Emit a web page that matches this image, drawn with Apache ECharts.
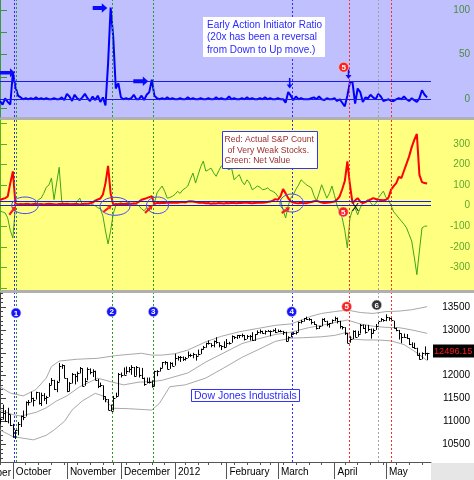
<!DOCTYPE html>
<html lang="en">
<head>
<meta charset="UTF-8">
<title>Early Action Initiator Ratio</title>
<style type="text/css">
    html, body { margin: 0; padding: 0; background: #fff; }
    #main { width: 474px; height: 480px; }
</style>
<script src="https://cdn.jsdelivr.net/npm/echarts@6/dist/echarts.min.js"></script>
</head>
<body>
<div id="main"></div>
<script type="application/javascript">
    // x = trading day index, 0 = 26 Sep 2011 ... 166 = 23 May 2012
    var monthStart = [5, 26, 47, 68, 88, 108, 130, 150];
    var monthName = ['October', 'November', 'December', '2012', 'February', 'March', 'April', 'May'];
    var weekStart = [0, 5, 10, 15, 20, 25, 30, 35, 40, 44, 49, 54, 59, 64, 68, 72, 77, 81, 86, 91, 96, 101, 105,
        110, 115, 120, 125, 130, 134, 139, 144, 149, 154, 159, 164];

    // top panel: early action initiator ratio
    var ratio = [-2, -6, 1, -3, -6, 30, 14, 4, 2, 0, 1, 0, 1, 0, 2, 0, 1, 0, 1, 0,
        0, 1, 0, 0, 2, -1, 6, 3, -2, 5, 1, -1, 2, 6, 1, -2, 3, -1, 4, -3,
        2, -7, 40, 103, 70, 12, 18, 2, 0, 1, 0, 1, 5, 0, 0, 4, -1, 5, 8, 22,
        4, 1, 0, 1, 0, 2, 0, 1, 0, 0, 1, 0, 0, 2, 0, 1, 0, 0, 1, 0,
        0, 1, 0, 0, 2, 0, 1, 0, 0, 3, 0, 1, 0, 0, 1, 0, 2, 0, 1, 0,
        0, 1, 0, 2, 0, 1, 0, 0, 1, 0, 0, -4, 8, 4, -1, 3, 0, 1, 0, 0,
        0, 1, 2, 0, 3, 0, -1, 1, 0, 0, 1, -2, 0, -4, -8, 4, 19, 19, -5, 12,
        8, -3, 2, 1, 5, 2, 0, 6, 3, -2, -1, 0, -2, -2, 0, 1, 0, 3, 0, -2,
        1, -1, -3, 1, 10, 5, 2];

    // middle panel: S&P count of very weak stocks (red) and net value (green)
    var weakCount = [29, 33, 37, 45, 110, 167, 10, 6, 8, 7, 9, 8, 6, 8, 9, 7, 8, 6, 8, 9,
        8, 7, 6, 8, 9, 8, 10, 8, 7, 9, 8, 6, 8, 10, 9, 12, 15, 25, 30, 35,
        55, 110, 194, 60, 5, 8, 7, 9, 8, 10, 8, 9, 10, 12, 20, 29, 33, 37, 42, 46,
        8, 14, 12, 14, 13, 15, 14, 16, 15, 14, 17, 18, 16, 20, 22, 21, 18, 15, 16, 14,
        12, 13, 10, 12, 11, 13, 12, 11, 13, 12, 14, 13, 12, 14, 13, 15, 14, 13, 12, 13,
        14, 15, 14, 16, 18, 20, 25, 32, 29, 45, 81, 60, 37, 21, 15, 13, 12, 14, 13, 12,
        15, 18, 22, 24, 20, 15, 13, 14, 16, 18, 20, 30, 46, 80, 120, 216, 102, 13, 25, 37,
        20, 13, 18, 25, 30, 37, 33, 29, 28, 27, 29, 40, 78, 95, 110, 140, 135, 170, 205, 240,
        285, 320, 349, 150, 115, 110, 108];
    var netValue = [-27, -30, -35, -60, -120, -157, 0, 8, 5, 2, 8, 12, 6, 10, 15, 30, 37, 60, 90, 100,
        135, 30, 110, 187, 20, 8, 10, 5, 10, 3, 20, 37, 5, 8, 2, 10, 5, 0, -10, -15,
        -50, -123, -186, -120, -40, 0, 10, 15, 5, 12, 20, 8, 15, 5, 0, -15, -25, -10, -25, 0,
        10, 62, 80, 96, 70, 37, 40, 46, 55, 70, 60, 77, 85, 96, 130, 159, 110, 150, 190, 217,
        168, 175, 183, 160, 143, 170, 193, 190, 183, 175, 183, 126, 140, 151, 120, 102, 126, 110, 78, 85,
        96, 90, 78, 80, 87, 75, 70, 62, 45, 29, -20, -60, 0, 37, 54, 80, 100, 126, 115, 102,
        95, 87, 50, 23, 60, 102, 70, 37, 60, 96, 50, 0, -30, -60, -120, -205, -60, -20, -11, -44,
        -10, 13, 20, 29, 15, 0, 10, 37, 55, 71, 40, 29, 0, -30, -44, -60, -75, -90, -108, -140,
        -172, -250, -335, -220, -108, -100, -99];

    // bottom panel: Dow Jones Industrials daily bars
    var dowHigh = [11070, 11370, 11250, 11300, 11150, 10950, 10810, 10990, 11130, 11240,
        11440, 11470, 11650, 11520, 11650, 11640, 11630, 11620, 11560, 11840,
        11950, 11910, 11890, 12280, 12250, 12230, 11950, 11860, 12060, 12040,
        12090, 12190, 12160, 11950, 12180, 12160, 12140, 12110, 11930, 11850,
        11790, 11550, 11490, 11370, 11560, 11630, 12060, 12070, 12180, 12200,
        12190, 12230, 12190, 12210, 12180, 12170, 11960, 11960, 11960, 11900,
        12110, 12120, 12180, 12300, 12320, 12300, 12300, 12290, 12480, 12430,
        12430, 12420, 12410, 12530, 12480, 12500, 12470, 12570, 12590, 12650,
        12720, 12770, 12710, 12770, 12840, 12730, 12660, 12750, 12800, 12740,
        12880, 12860, 12890, 12890, 12920, 12890, 12890, 12890, 12950, 12910,
        12990, 13010, 12980, 12990, 13000, 12990, 13010, 13040, 13010, 13000,
        12980, 12960, 12860, 12940, 12950, 12970, 13180, 13220, 13260, 13290,
        13260, 13240, 13190, 13120, 13090, 13250, 13260, 13200, 13150, 13230,
        13290, 13270, 13200, 13080, 13060, 12930, 12860, 12990, 12990, 12980,
        13130, 13120, 13110, 13110, 13030, 13030, 13130, 13210, 13260, 13230,
        13340, 13280, 13290, 13200, 13050, 13000, 12920, 12920, 12910, 12820,
        12730, 12720, 12610, 12500, 12510, 12640, 12500];
    var dowLow = [10950, 11040, 11000, 10960, 10900, 10650, 10620, 10700, 10880, 11030,
        11110, 11350, 11420, 11330, 11480, 11370, 11340, 11450, 11380, 11540,
        11800, 11690, 11640, 11870, 12150, 11950, 11640, 11660, 11830, 11810,
        11870, 12050, 11770, 11780, 11900, 12030, 11970, 11900, 11730, 11750,
        11470, 11420, 11250, 11230, 11240, 11520, 11560, 11960, 12010, 12030,
        12070, 12020, 11980, 12000, 11960, 11930, 11780, 11830, 11830, 11740,
        11770, 11990, 12090, 12170, 12240, 12140, 12150, 12210, 12220, 12330,
        12300, 12320, 12330, 12390, 12410, 12380, 12330, 12440, 12470, 12570,
        12610, 12680, 12620, 12620, 12700, 12620, 12560, 12600, 12630, 12680,
        12720, 12800, 12800, 12820, 12840, 12770, 12800, 12770, 12760, 12760,
        12900, 12920, 12920, 12900, 12960, 12860, 12960, 12930, 12950, 12950,
        12890, 12740, 12760, 12840, 12900, 12900, 12960, 13140, 13180, 13220,
        13200, 13120, 13110, 13010, 13020, 13080, 13190, 13080, 13050, 13140,
        13190, 13140, 13030, 13010, 12890, 12710, 12720, 12800, 12840, 12850,
        12920, 13020, 12920, 12970, 12810, 12920, 13000, 13080, 13180, 13180,
        13190, 13200, 13180, 13030, 12970, 12790, 12710, 12830, 12800, 12670,
        12610, 12590, 12440, 12350, 12360, 12440, 12340];
    var dowClose = [11044, 11191, 11011, 11154, 10913, 10655, 10809, 10940, 11123, 11103,
        11433, 11416, 11519, 11478, 11644, 11397, 11577, 11505, 11541, 11808,
        11913, 11706, 11869, 12209, 12231, 11955, 11658, 11836, 12044, 11983,
        12068, 12170, 11780, 11894, 12153, 12079, 12096, 11906, 11771, 11796,
        11548, 11494, 11258, 11231, 11523, 11556, 12046, 12020, 12019, 12098,
        12151, 12196, 11997, 12184, 12021, 11954, 11823, 11868, 11866, 11766,
        12103, 12107, 12169, 12294, 12291, 12151, 12288, 12218, 12397, 12418,
        12415, 12360, 12393, 12462, 12450, 12471, 12422, 12482, 12579, 12624,
        12720, 12709, 12676, 12756, 12734, 12660, 12653, 12633, 12716, 12705,
        12862, 12845, 12879, 12884, 12890, 12801, 12874, 12878, 12781, 12904,
        12950, 12966, 12938, 12985, 12983, 12981, 13005, 12952, 12980, 12978,
        12962, 12759, 12837, 12907, 12922, 12960, 13178, 13194, 13253, 13233,
        13239, 13171, 13125, 13046, 13081, 13242, 13197, 13127, 13146, 13212,
        13264, 13199, 13075, 13060, 12930, 12716, 12806, 12987, 12850, 12921,
        13116, 13033, 12965, 13029, 12928, 13001, 13090, 13205, 13229, 13214,
        13280, 13269, 13207, 13038, 13009, 12933, 12835, 12855, 12821, 12695,
        12632, 12599, 12443, 12369, 12504, 12502, 12496];

    // Bollinger bands, read at the bends
    var upperDay = [0, 4, 9, 14, 18, 20, 23, 30, 38, 45, 55, 59, 63, 68, 73, 80, 86, 93, 100, 107, 113, 117, 121, 125, 130, 135, 140, 145, 150, 155, 160, 166];
    var upperVal = [11760, 11620, 11560, 11700, 11950, 12200, 12320, 12360, 12380, 12440, 12490, 12450, 12450, 12480, 12560, 12740, 12860, 12960, 13030, 13100, 13130, 13210, 13300, 13360, 13400, 13434, 13380, 13360, 13400, 13410, 13440, 13507];
    var midDay = [0, 5, 8, 14, 18, 22, 26, 31, 38, 43, 48, 54, 59, 63, 68, 73, 80, 87, 94, 100, 107, 113, 120, 125, 130, 135, 140, 145, 150, 155, 160, 166];
    var midVal = [11250, 11150, 11120, 11200, 11300, 11450, 11560, 11760, 11945, 11870, 11800, 11860, 11870, 11900, 11980, 12060, 12300, 12500, 12700, 12800, 12900, 12950, 13050, 13100, 13160, 13216, 13130, 13080, 13056, 13050, 13000, 12925];
    var lowerDay = [0, 5, 13, 18, 21, 25, 28, 32, 37, 40, 42, 44, 50, 56, 59, 62, 66, 72, 80, 87, 94, 100, 107, 113, 118, 125, 130, 135, 137, 142, 147, 152, 157, 162, 166];
    var lowerVal = [10815, 10670, 10600, 10700, 10815, 11000, 11250, 11450, 11615, 11560, 11400, 11290, 11280, 11260, 11250, 11400, 11760, 11800, 11950, 12170, 12400, 12560, 12750, 12820, 12830, 12850, 12880, 12950, 12800, 12780, 12780, 12760, 12680, 12500, 12330];

    // signal days (dashed verticals)
    var eventDay = [5.5, 6.5, 43.7, 59.7, 113.7, 135.9, 147.1, 152.1];
    var eventColor = ['#2b2bff', '#2a9a2a', '#2a9a2a', '#2a9a2a', '#2b2bff', '#ff2b2b', '#a0a0a0', '#ff2b2b'];

    var FONT = '"Liberation Sans", Arial, sans-serif';
    var X_MIN = 0, X_MAX = 167.5;

    function pairs(days, vals) {
        var out = [];
        for (var i = 0; i < vals.length; i++) out.push([days ? days[i] : i, vals[i]]);
        return out;
    }

    function eventLines(extra) {
        var d = [];
        for (var k = 0; k < eventDay.length; k++) {
            d.push({xAxis: eventDay[k], lineStyle: {color: eventColor[k], type: [2, 2], width: 1}});
        }
        return {
            silent: true, symbol: ['none', 'none'], label: {show: false}, animation: false,
            data: d.concat(extra || [])
        };
    }

    var levelLines = [
        {yAxis: 20, lineStyle: {color: '#1a1aee', type: 'solid', width: 1}},
        {yAxis: 0, lineStyle: {color: '#1a1aee', type: 'solid', width: 1}}
    ];

    var bars = [];
    for (var i = 0; i < dowClose.length; i++) bars.push([i, dowHigh[i], dowLow[i], dowClose[i]]);

    var minorTicks = [];
    for (var v = 10200; v <= 13800; v += 100) minorTicks.push(v);

    function plain(v) { return String(v); }

    // ---- annotation helpers ----
    function arrowRight(x0, x1, yc, s, h, hl, color) {
        return {type: 'polygon', z: 100, silent: true,
            shape: {points: [[x0, yc - s / 2], [x1 - hl, yc - s / 2], [x1 - hl, yc - h / 2], [x1, yc],
                [x1 - hl, yc + h / 2], [x1 - hl, yc + s / 2], [x0, yc + s / 2]]},
            style: {fill: color}};
    }
    function arrowDown(xc, y0, y1, s, h, hl, color) {
        return {type: 'polygon', z: 100, silent: true,
            shape: {points: [[xc - s / 2, y0], [xc + s / 2, y0], [xc + s / 2, y1 - hl], [xc + h / 2, y1 - hl],
                [xc, y1], [xc - h / 2, y1 - hl], [xc - s / 2, y1 - hl]]},
            style: {fill: color}};
    }
    function arrowTo(x0, y0, x1, y1, color) {
        var dx = x1 - x0, dy = y1 - y0, len = Math.sqrt(dx * dx + dy * dy);
        var ux = dx / len, uy = dy / len, hl = 4, hw = 2.6;
        var bx = x1 - ux * hl, by = y1 - uy * hl;
        return [
            {type: 'line', z: 100, silent: true, shape: {x1: x0, y1: y0, x2: bx, y2: by},
                style: {stroke: color, lineWidth: 2.2}},
            {type: 'polygon', z: 100, silent: true,
                shape: {points: [[x1, y1], [bx - uy * hw, by + ux * hw], [bx + uy * hw, by - ux * hw]]},
                style: {fill: color}}
        ];
    }
    function badge(cx, cy, txt, fill) {
        return {type: 'group', z: 100, silent: true, children: [
            {type: 'circle', shape: {cx: cx, cy: cy, r: 5}, style: {fill: fill, stroke: '#dddddd', lineWidth: 0.6}, z: 100},
            {type: 'text', x: cx, y: cy + 0.5, z: 101,
                style: {text: txt, fill: '#ffffff', font: 'bold 8px ' + FONT, align: 'center', verticalAlign: 'middle'}}
        ]};
    }
    function ellipse(cx, cy, rx, ry) {
        return {type: 'ellipse', z: 100, silent: true, shape: {cx: cx, cy: cy, rx: rx, ry: ry},
            style: {fill: null, stroke: '#4646ff', lineWidth: 1}};
    }
    function txt(x, y, s, color, size, align) {
        return {type: 'text', x: x, y: y, z: 102, silent: true,
            style: {text: s, fill: color, font: size + 'px ' + FONT, align: align || 'left', verticalAlign: 'middle'}};
    }

    var graphics = [
        // panel backgrounds
        {type: 'rect', z: -10, silent: true, shape: {x: 0, y: 0, width: 474, height: 117}, style: {fill: '#c0c0ff'}},
        {type: 'rect', z: -10, silent: true, shape: {x: 0, y: 117, width: 474, height: 3}, style: {fill: '#b0b0b0'}},
        {type: 'rect', z: -10, silent: true, shape: {x: 0, y: 120, width: 474, height: 170}, style: {fill: '#ffff80'}},
        {type: 'rect', z: -10, silent: true, shape: {x: 0, y: 290, width: 474, height: 3}, style: {fill: '#b0b0b0'}},
        {type: 'rect', z: -10, silent: true, shape: {x: 0, y: 293, width: 474, height: 187}, style: {fill: '#ffffff'}},
        {type: 'rect', z: -10, silent: true, shape: {x: 431, y: 463, width: 43, height: 17}, style: {fill: '#e6e6e6'}},

        // top panel
        arrowRight(0, 15, 72.8, 3.5, 9, 5, '#0a0aff'),
        arrowRight(92.7, 107.3, 8, 4, 9.5, 5.5, '#0a0aff'),
        arrowRight(133.3, 148.3, 81.3, 4, 9.5, 5.5, '#0a0aff'),
        arrowDown(289.7, 78, 88.5, 1.6, 6, 4, '#0a0aff'),
        arrowDown(348.5, 68.5, 79, 1.6, 6, 4, '#0a0aff'),
        badge(343.7, 67.2, '5', '#ff2020'),
        {type: 'rect', z: 101, silent: true, shape: {x: 203, y: 17, width: 122, height: 40}, style: {fill: '#ffffff'}},
        txt(207, 25, 'Early Action Initiator Ratio', '#2a2aff', 10),
        txt(207, 37.5, '(20x has been a reversal', '#2a2aff', 10),
        txt(207, 50, 'from Down to Up move.)', '#2a2aff', 10),

        // middle panel
        ellipse(25, 205.3, 13.3, 8.3),
        ellipse(115, 206.3, 15, 9),
        ellipse(157.5, 205.3, 11, 8.3),
        ellipse(291.7, 203, 11.7, 9),
        badge(343.3, 212, '5', '#ff2020'),
        txt(351.7, 207.5, 'X', '#000000', 11),
        {type: 'rect', z: 101, silent: true, shape: {x: 222.5, y: 131.5, width: 95, height: 37},
            style: {fill: '#ffffff', stroke: '#3333ff', lineWidth: 1}},
        txt(224.5, 139.5, 'Red: Actual S&P Count', '#9b2d2d', 8.6),
        txt(227.5, 150.3, 'of Very Weak Stocks.', '#9b2d2d', 8.6),
        txt(224.5, 161, 'Green: Net Value', '#9b2d2d', 8.6),

        // bottom panel
        badge(16, 313, '1', '#1414ff'),
        badge(111.7, 311.7, '2', '#1414ff'),
        badge(153.3, 311.7, '3', '#1414ff'),
        badge(291.7, 311.7, '4', '#1414ff'),
        badge(346.7, 306.7, '5', '#ff2020'),
        badge(376.7, 305, '6', '#333333'),
        {type: 'rect', z: 101, silent: true, shape: {x: 191.5, y: 389.5, width: 108, height: 12},
            style: {fill: '#ffffff', stroke: '#3333ff', lineWidth: 1}},
        txt(194, 395.8, 'Dow Jones Industrials', '#2a2aff', 10.5),
        {type: 'rect', z: 101, silent: true, shape: {x: 433, y: 344.5, width: 41, height: 13}, style: {fill: '#000000'}},
        txt(434, 351.3, '12496.15', '#ff1a1a', 9.2),
        txt(11, 473, 'ber', '#000000', 10, 'right')
    ];
    [[9.3, 214.7, 16, 206.3], [103.3, 212, 111.7, 205.3], [145, 213, 152.7, 205.3], [281.7, 213, 290, 207.3]]
        .forEach(function (a) { graphics = graphics.concat(arrowTo(a[0], a[1], a[2], a[3], '#ff1a1a')); });

    var chart = echarts.init(document.getElementById('main'), null, {renderer: 'canvas'});
    var option = {
        animation: false,
        textStyle: {fontFamily: FONT},
        grid: [
            {left: 0, right: 43, top: 0, height: 117},
            {left: 0, right: 43, top: 120, height: 170},
            {left: 0, right: 43, top: 293, height: 169}
        ],
        xAxis: [
            {gridIndex: 0, type: 'value', min: X_MIN, max: X_MAX, show: false},
            {gridIndex: 1, type: 'value', min: X_MIN, max: X_MAX, show: false},
            {gridIndex: 2, type: 'value', min: X_MIN, max: X_MAX, position: 'bottom',
                axisLine: {show: true, lineStyle: {color: '#555555'}},
                splitLine: {show: false},
                axisTick: {show: true, customValues: monthStart, length: 17, lineStyle: {color: '#555555'}},
                axisLabel: {customValues: monthStart, align: 'left', padding: [0, 0, 0, 3], margin: 5,
                    fontSize: 10, color: '#000000', fontFamily: FONT,
                    formatter: function (v) { return monthName[monthStart.indexOf(v)]; }}},
            {gridIndex: 2, type: 'value', min: X_MIN, max: X_MAX, position: 'bottom',
                axisLine: {show: false}, splitLine: {show: false}, axisLabel: {show: false},
                axisTick: {show: true, customValues: weekStart, length: 3, lineStyle: {color: '#555555'}}}
        ],
        yAxis: [
            {gridIndex: 0, type: 'value', position: 'right', min: -20, max: 111.5, splitLine: {show: false},
                axisLine: {show: true, lineStyle: {color: '#3a963a'}},
                axisTick: {show: true, customValues: [-10, 0, 25, 50, 75, 100], length: 7, lineStyle: {color: '#3a963a'}},
                axisLabel: {customValues: [0, 50, 100], align: 'right', margin: 39, fontSize: 10, color: '#4a8c3a',
                    fontFamily: FONT, formatter: plain}},
            {gridIndex: 1, type: 'value', position: 'right', min: -410, max: 417, splitLine: {show: false},
                axisLine: {show: true, lineStyle: {color: '#5cb01e'}},
                axisTick: {show: true, customValues: [-400, -300, -200, -100, 0, 100, 200, 300, 400], length: 7, lineStyle: {color: '#5cb01e'}},
                axisLabel: {customValues: [-300, -200, -100, 0, 100, 200, 300], align: 'right', margin: 39, fontSize: 10,
                    color: '#5fa82a', fontFamily: FONT, formatter: plain}},
            {gridIndex: 2, type: 'value', position: 'right', min: 10116, max: 13806, splitLine: {show: false},
                axisLine: {show: true, lineStyle: {color: '#444444'}},
                axisTick: {show: true, customValues: [10500, 11000, 11500, 12000, 12500, 13000, 13500], length: 6, lineStyle: {color: '#444444'}},
                axisLabel: {customValues: [10500, 11000, 11500, 12000, 13000, 13500], align: 'right', margin: 39, fontSize: 10,
                    color: '#000000', fontFamily: FONT, formatter: plain}},
            {gridIndex: 2, type: 'value', position: 'right', min: 10116, max: 13806, splitLine: {show: false},
                axisLine: {show: false}, axisLabel: {show: false},
                axisTick: {show: true, customValues: minorTicks, length: 3, lineStyle: {color: '#444444'}}}
        ],
        series: [
            {name: 'Early Action Initiator Ratio', type: 'line', xAxisIndex: 0, yAxisIndex: 0,
                data: pairs(null, ratio), showSymbol: false, symbol: 'none',
                lineStyle: {color: '#0000ff', width: 2}, itemStyle: {color: '#0000ff'},
                markLine: eventLines(levelLines)},
            {name: 'Net Value', type: 'line', xAxisIndex: 1, yAxisIndex: 1,
                data: pairs(null, netValue), showSymbol: false, symbol: 'none',
                lineStyle: {color: '#3fa41c', width: 1}, itemStyle: {color: '#3fa41c'},
                markLine: eventLines(levelLines)},
            {name: 'Very Weak Stocks', type: 'line', xAxisIndex: 1, yAxisIndex: 1, z: 3,
                data: pairs(null, weakCount), showSymbol: false, symbol: 'none',
                lineStyle: {color: '#ff0000', width: 2}, itemStyle: {color: '#ff0000'}},
            {name: 'Upper band', type: 'line', xAxisIndex: 2, yAxisIndex: 2,
                data: pairs(upperDay, upperVal), showSymbol: false, symbol: 'none',
                lineStyle: {color: '#a8a8a8', width: 1}, markLine: eventLines()},
            {name: 'Middle band', type: 'line', xAxisIndex: 2, yAxisIndex: 2,
                data: pairs(midDay, midVal), showSymbol: false, symbol: 'none',
                lineStyle: {color: '#a8a8a8', width: 1}},
            {name: 'Lower band', type: 'line', xAxisIndex: 2, yAxisIndex: 2,
                data: pairs(lowerDay, lowerVal), showSymbol: false, symbol: 'none',
                lineStyle: {color: '#a8a8a8', width: 1}},
            {name: 'Dow Jones Industrials', type: 'custom', xAxisIndex: 2, yAxisIndex: 2, z: 4,
                data: bars, encode: {x: 0, y: [1, 2, 3]},
                renderItem: function (params, api) {
                    var h = api.coord([api.value(0), api.value(1)]);
                    var l = api.coord([api.value(0), api.value(2)]);
                    var c = api.coord([api.value(0), api.value(3)]);
                    var px = Math.round(h[0]) + 0.5;
                    var cy = Math.round(c[1]) + 0.5;
                    return {type: 'group', children: [
                        {type: 'line', shape: {x1: px, y1: h[1], x2: px, y2: l[1]}, style: {stroke: '#000000', lineWidth: 1}},
                        {type: 'line', shape: {x1: px, y1: cy, x2: px + 2, y2: cy}, style: {stroke: '#000000', lineWidth: 1}}
                    ]};
                }}
        ],
        graphic: graphics
    };
    chart.setOption(option);
</script>
</body>
</html>
